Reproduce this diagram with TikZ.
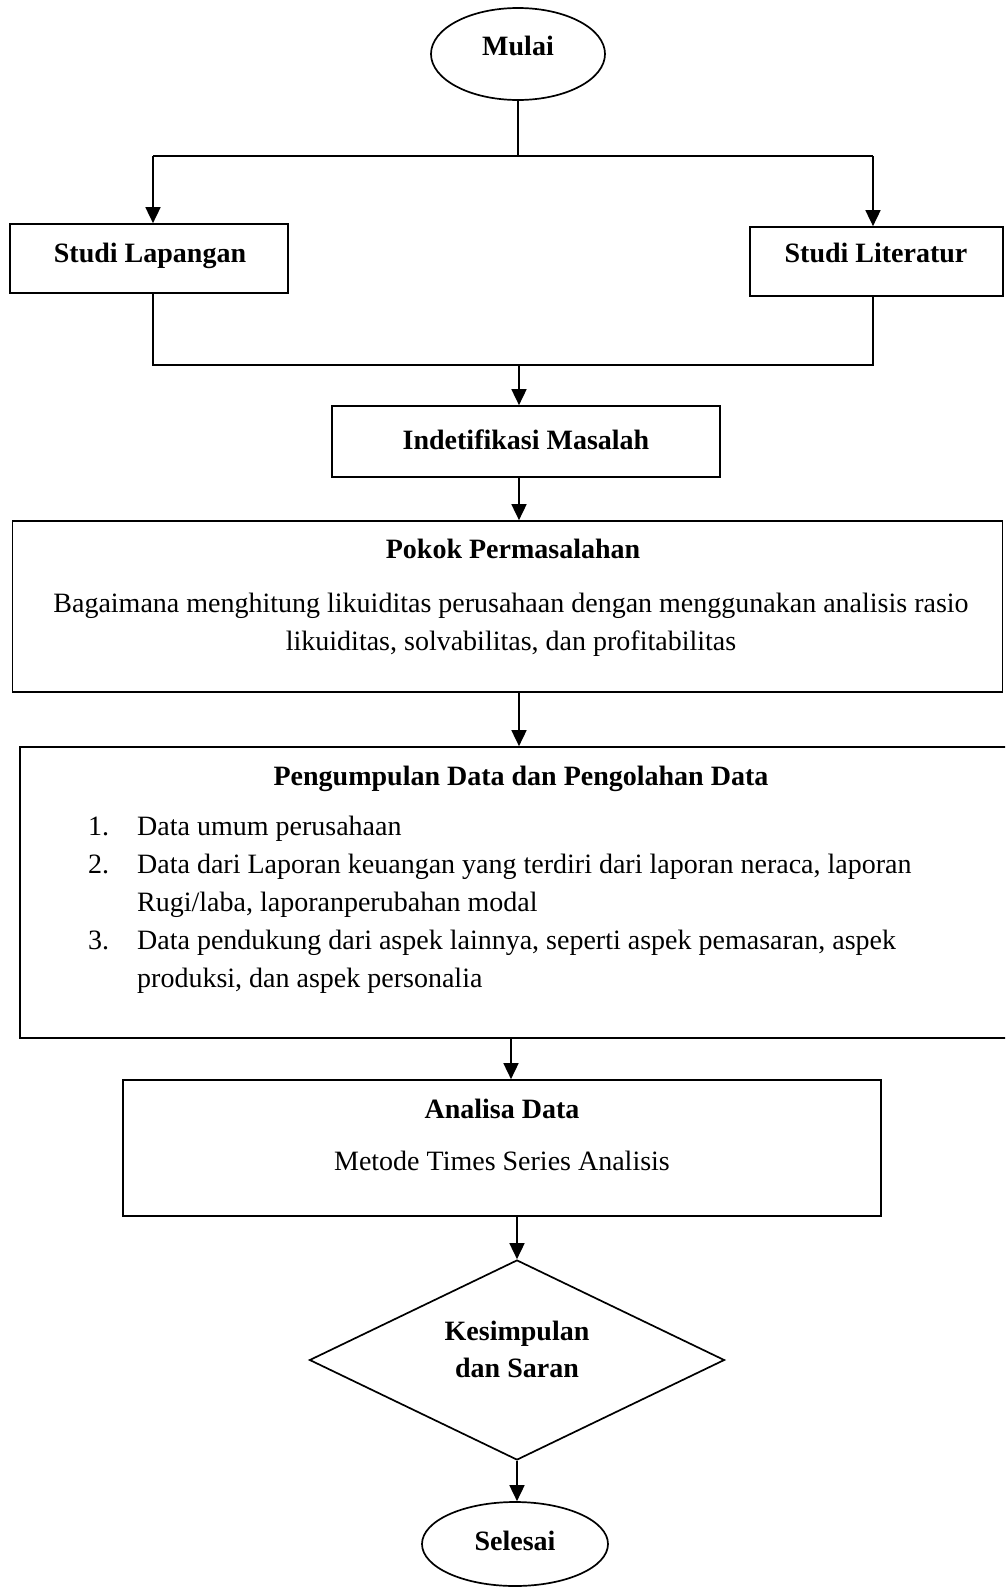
\documentclass[tikz,border=0pt]{standalone}
\usepackage{fontspec}
\setmainfont{Liberation Serif}
\usetikzlibrary{arrows.meta,shapes.geometric}
\begin{document}
\begin{tikzpicture}[x=1pt,y=-1pt,
  box/.style={draw, line width=1.7pt, rectangle, inner sep=0pt},
  oval/.style={draw, line width=1.7pt, ellipse, inner sep=0pt},
  lbl/.style={anchor=base, inner sep=0pt, font=\fontsize{28}{38}\selectfont},
  lblw/.style={lbl, anchor=base west},
  ttl/.style={anchor=base, inner sep=0pt, font=\fontsize{28}{38}\selectfont\bfseries},
  conn/.style={line width=1.7pt},
  arr/.style={conn, -{Triangle[width=15pt,length=16pt]}},
]
\useasboundingbox (0,0) rectangle (1005,1590);
\clip (0,0) rectangle (1005,1590);

% shapes
\node[oval, minimum width=174pt, minimum height=92pt] (mulai) at (518,54) {};
\node[box, minimum width=278pt, minimum height=69pt] (lap) at (149,258.5) {};
\node[box, minimum width=253pt, minimum height=69pt] (lit) at (876.5,261.5) {};
\node[box, minimum width=388pt, minimum height=71pt] (ide) at (526,441.5) {};
\node[box, minimum width=990pt, minimum height=171pt] (pokok) at (507.5,606.5) {};
\node[box, minimum width=990pt, minimum height=291pt] (kump) at (515,892.5) {};
\node[box, minimum width=758pt, minimum height=136pt] (ana) at (502,1148) {};
\node[draw, line width=1.7pt, diamond, inner sep=0pt, minimum width=415pt, minimum height=200pt] (kes) at (517,1360) {};
\node[oval, minimum width=186pt, minimum height=84pt] (selesai) at (515,1544) {};

% texts
\node[ttl] (tmulai) at (518,55) {Mulai};
\node[ttl] (tlap) at (150,262) {Studi Lapangan};
\node[ttl] (tlit) at (876,262) {Studi Literatur};
\node[ttl] (tide) at (526,449) {Indetifikasi Masalah};
\node[ttl] (tpokok) at (513,558) {Pokok Permasalahan};
\node[lbl] (tp1) at (511,612) {Bagaimana menghitung likuiditas perusahaan dengan menggunakan analisis rasio};
\node[lbl] (tp2) at (511,650) {likuiditas, solvabilitas, dan profitabilitas};
\node[ttl] (tkump) at (521,785) {Pengumpulan Data dan Pengolahan Data};
\node[lblw] (n1) at (88,835) {1.};
\node[lblw] (k1) at (137,835) {Data umum perusahaan};
\node[lblw] (n2) at (88,873) {2.};
\node[lblw] (k2a) at (137,873) {Data dari Laporan keuangan yang terdiri dari laporan neraca, laporan};
\node[lblw] (k2b) at (137,911) {Rugi/laba, laporanperubahan modal};
\node[lblw] (n3) at (88,949) {3.};
\node[lblw] (k3a) at (137,949) {Data pendukung dari aspek lainnya, seperti aspek pemasaran, aspek};
\node[lblw] (k3b) at (137,987) {produksi, dan aspek personalia};
\node[ttl] (tana) at (502,1118) {Analisa Data};
\node[lbl] (tana2) at (502,1170) {Metode Times Series Analisis};
\node[ttl] (tkes1) at (517,1340) {Kesimpulan};
\node[ttl] (tkes2) at (517,1377) {dan Saran};
\node[ttl] (tsel) at (515,1550) {Selesai};

% connectors
\coordinate (j1l) at (153,156);
\coordinate (j1r) at (873,156);
\coordinate (j1m) at (519,156);
\coordinate (j2l) at (153,365);
\coordinate (j2r) at (873,365);
\coordinate (j2m) at (519,365);
\coordinate (j3) at (511,1040);
\draw[conn] (mulai.south) -- (mulai.south |- j1m);
\draw[conn] (j1l) -- (j1r);
\draw[arr] (j1l) -- (j1l |- lap.north);
\draw[arr] (j1r) -- (j1r |- lit.north);
\draw[conn] (j1l |- lap.south) -- (j2l) -- (j2r) -- (j1r |- lit.south);
\draw[arr] (j2m) -- (j2m |- ide.north);
\draw[arr] (ide.south -| j2m) -- (j2m |- pokok.north);
\draw[arr] (pokok.south -| j2m) -- (j2m |- kump.north);
\draw[arr] (kump.south -| j3) -- (j3 |- ana.north);
\draw[arr] (ana.south -| kes.north) -- (kes.north);
\draw[arr] (kes.south) -- (kes.south |- selesai.north);
\end{tikzpicture}
\end{document}
